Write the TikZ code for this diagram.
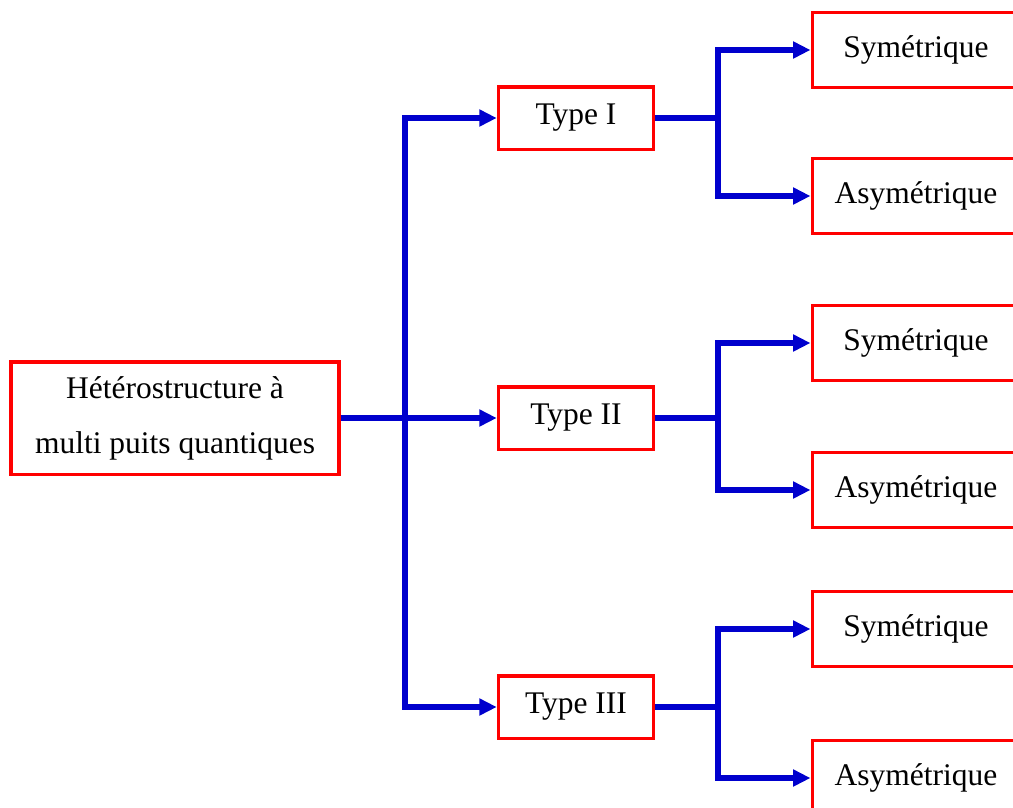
\documentclass[tikz,border=0pt]{standalone}
\usepackage{fontspec}
\setmainfont{Liberation Serif}
\usepackage{tikz}
\usetikzlibrary{arrows.meta,positioning}
\definecolor{boxred}{RGB}{255,0,0}
\definecolor{flowblue}{RGB}{0,0,205}
\tikzstyle{block} = [rectangle, draw=boxred, line width=1.4pt, text centered, font=\fontsize{12.6pt}{22pt}\selectfont]
\tikzstyle{mainbox} = [block, align=center, minimum width=131pt, minimum height=45pt]
\tikzstyle{typebox} = [block, minimum width=62pt, minimum height=25pt]
\tikzstyle{leaf} = [block, minimum width=83pt, minimum height=30pt]
\tikzstyle{line} = [draw=flowblue, line width=2.4pt]
\tikzstyle{junction} = [coordinate]

\begin{document}
\begin{tikzpicture}[x=0.4pt, y=-0.4pt, >={Triangle[length=7pt,width=6.5pt]}]
    \clip (0,0) rectangle (1013,807);
    \node[mainbox] (hetero) at (175,418) {Hétérostructure à\\multi puits quantiques};
    \node[typebox] (type1) at (576,118) {Type I};
    \node[typebox] (type2) at (576,418) {Type II};
    \node[typebox] (type3) at (576,707) {Type III};

    \node[leaf] (sym1) at (916,50) {Symétrique};
    \node[leaf] (asym1) at (916,196) {Asymétrique};
    \node[leaf] (sym2) at (916,343) {Symétrique};
    \node[leaf] (asym2) at (916,490) {Asymétrique};
    \node[leaf] (sym3) at (916,629) {Symétrique};
    \node[leaf] (asym3) at (916,778) {Asymétrique};

    \node[junction] (spinetop) at (405,118) {};
    \node[junction] (spinebot) at (405,707) {};
    \node[junction] (fork1) at (718,118) {};
    \node[junction] (fork2) at (718,418) {};
    \node[junction] (fork3) at (718,707) {};

    \draw[line, ->] (hetero) -- (type2);
    \draw[line, <->] (type1) -- (spinetop) -- (spinebot) -- (type3);

    \draw[line] (type1) -- (fork1);
    \draw[line, <->] (sym1) -| (fork1) |- (asym1);
    \draw[line] (type2) -- (fork2);
    \draw[line, <->] (sym2) -| (fork2) |- (asym2);
    \draw[line] (type3) -- (fork3);
    \draw[line, <->] (sym3) -| (fork3) |- (asym3);
\end{tikzpicture}
\end{document}
